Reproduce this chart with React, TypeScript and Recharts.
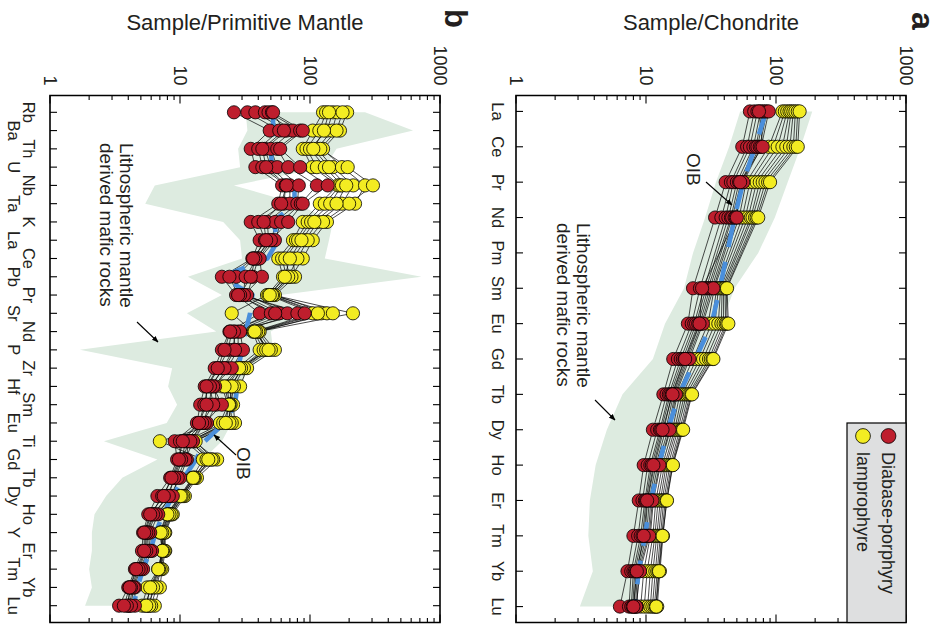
import React from 'react';
import { ComposedChart, Line, Area, XAxis, YAxis, ReferenceArea } from 'recharts';

// ---------- Panel a: chondrite-normalised REE ----------
const REE = ['La', 'Ce', 'Pr', 'Nd', 'Pm', 'Sm', 'Eu', 'Gd', 'Tb', 'Dy', 'Ho', 'Er', 'Tm', 'Yb', 'Lu'];
const reeBandLow = [53, 43.6, 34.5, 28.5, 23, 19.6, 14, 11.3, 6.6, 5.0, 4.1, 3.7, 3.6, 3.9, 3.1];
const reeBandHigh = [190, 155, 123, 98, 73, 48, 38, 31, 22, 17, 13, 11, 10, 9, 8];
const reeOIB = [84, 69, 56, 48, null, 37, 32, 24, 18, 14.7, 12.6, 10.9, 9.8, 8.8, 8.2];
const reeDiabase = [
  [63, 55, 41, 34, null, 23, 21, 16.2, 13.6, 11.3, 9.6, 8.8, 8.0, 7.2, 6.3],
  [68, 60, 45, 38, null, 26, 22.5, 17.6, 14.4, 12.2, 10.3, 9.4, 8.7, 7.7, 7.4],
  [72, 63, 47, 41, null, 28, 23.5, 18.5, 15.0, 12.8, 10.8, 9.8, 9.1, 8.0, 7.7],
  [76, 67, 50, 43, null, 29, 24.3, 19.2, 15.4, 13.1, 11.1, 10.0, 9.4, 8.2, 7.9],
  [79, 70, 52, 45, null, 30, 25.2, 19.8, 15.8, 13.7, 11.6, 10.3, 9.8, 8.4, 8.1],
  [82, 72, 54, 46, null, 31, 26.0, 20.5, 16.3, 14.2, 11.9, 10.6, 10.1, 8.6, 8.3],
  [85, 75, 55, 48, null, 32, 26.8, 21.0, 16.7, 14.8, 12.3, 10.9, 10.4, 8.8, 8.5],
  [88, 77, 56, 49, null, 33, 27.4, 21.6, 17.0, 15.2, 12.7, 11.2, 10.6, 9.0, 8.4],
  [74, 79, 53, 50, null, 27, 25.8, 20.0, 16.0, 13.4, 11.4, 10.2, 9.6, 8.5, 8.0],
];
const reeLamprophyre = [
  [112, 88, 59, 52, null, 33.5, 30, 23, 17.4, 15.4, 12.9, 11.4, 10.8, 9.6, 9.1],
  [117, 95, 63, 55, null, 35, 32, 24.5, 18.2, 16.0, 13.4, 11.9, 11.3, 10.2, 9.7],
  [122, 103, 67, 58, null, 36, 34, 26, 19.0, 16.6, 13.9, 12.4, 11.7, 10.8, 10.3],
  [127, 112, 71, 61, null, 37.5, 36, 27.5, 19.8, 17.1, 14.3, 12.9, 12.1, 11.3, 10.8],
  [131, 120, 75, 64, null, 38.5, 38, 29, 20.5, 17.6, 14.8, 13.3, 12.5, 11.8, 11.2],
  [136, 128, 79, 66, null, 39.5, 39.5, 30.5, 21.2, 18.2, 15.3, 13.7, 12.9, 12.2, 11.6],
  [141, 136, 83, 69, null, 40.5, 41, 31.5, 21.8, 18.7, 15.7, 14.1, 13.2, 12.5, 11.9],
  [147, 142, 87, 71, null, 41.5, 42, 32.5, 22.3, 19.0, 16.0, 14.4, 13.5, 12.8, 12.2],
  [152, 147, 90, 73, null, 42, 43, 33, 22.6, 19.3, 16.1, 14.5, 13.4, 12.6, 12.0],
];

// ---------- Panel b: primitive-mantle-normalised spider ----------
const SPIDER = ['Rb', 'Ba', 'Th', 'U', 'Nb', 'Ta', 'K', 'La', 'Ce', 'Pb', 'Pr', 'Sr', 'Nd', 'P',
  'Zr', 'Hf', 'Sm', 'Eu', 'Ti', 'Gd', 'Tb', 'Dy', 'Ho', 'Y', 'Er', 'Tm', 'Yb', 'Lu'];
const spBandLow = [32, 33, 28, 29, 6.4, 5.4, 21.5, 29, 30, 11.5, 21, 11.3, 19, 1.7, 8.7, 8.1, 9.5, 7.9,
  2.6, 6.7, 3.6, 2.7, 2.2, 2.1, 2.1, 2.0, 2.1, 1.86];
const spBandHigh = [265, 620, 160, 130, 26, 80, 150, 140, 130, 720, 59, 85, 50, 52, 34, 29, 27.5, 25,
  21, 15, 12, 10, 8.8, 7.9, 7.4, 7, 6.2, 5.6];
const spOIB = [52, 52, 50, 51, 76, 76, 52, 57, 47, 21, 36, 34.6, 32, 30, 28, 27.5, 26.5, 22, 15.5, 13.3,
  10.7, 8.8, 7.4, 6.5, 5.9, 5.2, 4.7, 4.4];
const spDiabase = [
  [26, 49, 35, 38, 61, 57, 35, 41, 36, 21, 27, 41, 24, 21, 18.5, 15.5, 14.3, 13.5, 9.1, 9.5, 8.4, 6.7, 5.7, 5.2, 5.1, 4.5, 4.0, 3.4],
  [33, 58, 40, 43, 65, 63, 40, 45, 37, 27, 28.5, 50, 25, 23.5, 19.8, 16.3, 15.4, 14.0, 10.0, 10.0, 8.8, 7.3, 6.0, 5.4, 5.4, 4.7, 4.1, 4.0],
  [38, 66, 45, 50, 70, 70, 47, 48, 39, 32, 30.5, 58, 26.5, 25.6, 21.4, 17.5, 16.8, 15.0, 10.9, 10.5, 9.2, 7.9, 6.3, 5.6, 5.7, 4.9, 4.3, 4.1],
  [45, 74, 50, 56, 82, 80, 54, 51, 40, 36.3, 32.8, 67, 28, 28, 23, 18.6, 19, 16.1, 11.5, 11.3, 10, 8.4, 6.8, 5.9, 6.1, 5.2, 4.5, 4.5],
  [48, 84, 56, 68, 113, 85, 60, 53.7, 41, 42.7, 31, 80, 29, 30.5, 25, 18, 21, 15.5, 12.6, 11, 9.6, 8.8, 6.5, 5.7, 5.9, 5.0, 4.4, 4.2],
  [51, 88, 59, 84, 137, 88, 68, 50, 38, 35, 29, 91, 26, 26.5, 22, 17, 18, 14.8, 12, 10.2, 9, 8.2, 6.2, 5.5, 5.5, 4.8, 4.2, 3.9],
  [52, 63, 43, 46, 66, 60, 44, 46, 36.5, 24, 28, 54, 24.3, 22, 19.5, 16, 16, 14, 10.5, 9.8, 8.6, 7.5, 5.9, 5.3, 5.3, 4.6, 4.1, 3.7],
];
const spLamprophyre = [
  [126, 105, 88, 104, 164, 119, 88, 74, 57, 62, 46.7, 25, 36.3, 41, 27.5, 21, 23.4, 20.3, 7.0, 15, 12.4, 10, 7.9, 7.0, 7.3, 6.8, 5.6, 5.1],
  [133, 118, 94, 113, 170, 130, 96, 78, 61, 66, 48, 105, 37, 44, 29, 23, 24, 21.5, 11, 16, 12.8, 10.2, 8.2, 7.2, 7.4, 6.9, 6.0, 5.4],
  [150, 135, 100, 130, 176, 143, 102, 81, 64.5, 70, 50, 122, 39, 47, 30.5, 24.3, 25, 23.4, 11.8, 17, 13.2, 10.5, 8.5, 7.4, 7.5, 7.0, 6.4, 5.7],
  [162, 148, 113, 150, 215, 176, 115, 91.5, 74, 76.7, 53.7, 135, 41, 53.7, 32.8, 29, 25.6, 26.5, 12.8, 19.3, 13.5, 10.9, 8.8, 7.7, 7.7, 7.3, 7.0, 6.4],
  [193, 170, 126, 176, 265, 222, 135, 105, 88, 72, 52, 214, 40, 50, 31, 26, 24.5, 25, 13.2, 18, 13, 10.6, 8.6, 7.6, 7.6, 7.1, 6.6, 6.0],
  [178, 160, 120, 195, 305, 200, 126, 96, 80, 68, 51, 150, 38.5, 46, 29.5, 25, 24, 24, 12.4, 17.5, 12.8, 10.3, 8.3, 7.3, 7.4, 6.9, 6.2, 5.8],
  [140, 128, 106, 140, 190, 160, 108, 86, 70, 64, 49, 115, 37.5, 48, 28.5, 22, 23.8, 22.5, 12, 16.5, 12.6, 10.1, 8.0, 7.1, 7.3, 6.8, 5.9, 5.5],
];

const LOG_TICKS = [1, 2, 3, 4, 5, 6, 7, 8, 9, 10, 20, 30, 40, 50, 60, 70, 80, 90, 100,
  200, 300, 400, 500, 600, 700, 800, 900, 1000];
const MAJOR = [1, 10, 100, 1000];

// ---------- styling ----------
const FF = '"Liberation Sans", Arial, Helvetica, sans-serif';
const INK = '#231f20';
const RED = '#BE1E2D';
const YEL = '#F3EC22';
const BLUE = '#4A8FDB';
const GREEN = '#DDEBE0';
const W = 624;
const PLOT_W = 527;
const PLOT_H = 390;

function buildRows(els: string[], lo: number[], hi: number[], oib: (number | null)[], red: (number | null)[][], yel: (number | null)[][]) {
  return els.map((el, i) => {
    const row: any = { idx: i + 1, el, band: [lo[i], hi[i]], oib: oib[i] };
    red.forEach((s, k) => { row['d' + k] = s[i]; });
    yel.forEach((s, k) => { row['l' + k] = s[i]; });
    return row;
  });
}

const reeRows = buildRows(REE, reeBandLow, reeBandHigh, reeOIB, reeDiabase, reeLamprophyre);
const spRows = buildRows(SPIDER, spBandLow, spBandHigh, spOIB, spDiabase, spLamprophyre);

const LogTick = (props: any) => {
  const { x, y, payload } = props;
  const v = payload.value;
  const major = MAJOR.includes(v);
  const len = major ? 8 : 4.5;
  return (
    <g>
      <line x1={x} x2={x + len} y1={y} y2={y} stroke="#000" strokeWidth={1.1} />
      <line x1={x + PLOT_W} x2={x + PLOT_W - len} y1={y} y2={y} stroke="#000" strokeWidth={1.1} />
      {major ? (
        <text x={x - 10} y={y} dy="0.36em" textAnchor="end" fontFamily={FF} fontSize={18} fill={INK}>{v}</text>
      ) : null}
    </g>
  );
};

const makeElTick = (labels: string[], offsets: number[]) => (props: any) => {
  const { x, y, payload } = props;
  const i = Math.round(payload.value) - 1;
  const dy = offsets[i % offsets.length];
  return (
    <g>
      <line x1={x} x2={x} y1={y} y2={y - 7} stroke="#000" strokeWidth={1.1} />
      <line x1={x} x2={x} y1={y - PLOT_H} y2={y - PLOT_H + 7} stroke="#000" strokeWidth={1.1} />
      <text x={x} y={y + dy} textAnchor="middle" fontFamily={FF} fontSize={16.5} fill={INK}>{labels[i]}</text>
    </g>
  );
};

type PanelProps = {
  rows: any[]; labels: string[]; nRed: number; nYel: number; domainX: [number, number];
  offsets: number[]; height: number; top: number;
};

function Panel({ rows, labels, nRed, nYel, domainX, offsets, height, top }: PanelProps) {
  const ticksX = labels.map((_, i) => i + 1);
  const redKeys = Array.from({ length: nRed }, (_, k) => 'd' + k);
  const yelKeys = Array.from({ length: nYel }, (_, k) => 'l' + k);
  const bottom = height - top - PLOT_H;
  return (
    <ComposedChart width={W} height={height} data={rows}
      margin={{ top, right: W - 95.5 - PLOT_W, left: 55.5, bottom: bottom - 20 }}>
      <XAxis dataKey="idx" type="number" domain={domainX} ticks={ticksX} interval={0}
        allowDataOverflow tickSize={0} tickMargin={0} axisLine={false} tickLine={false} height={20}
        tick={makeElTick(labels, offsets)} />
      <YAxis type="number" scale="log" domain={[1, 1000]} ticks={LOG_TICKS} interval={0}
        allowDataOverflow tickSize={0} tickMargin={0} axisLine={false} tickLine={false} width={40}
        tick={LogTick} />
      <Area dataKey="band" type="linear" stroke="none" fill={GREEN} fillOpacity={1}
        isAnimationActive={false} activeDot={false} />
      {yelKeys.map((k) => (
        <Line key={'ll' + k} dataKey={k} type="linear" stroke="#000" strokeWidth={0.7} dot={false}
          activeDot={false} connectNulls isAnimationActive={false} />
      ))}
      {redKeys.map((k) => (
        <Line key={'ld' + k} dataKey={k} type="linear" stroke="#000" strokeWidth={0.7} dot={false}
          activeDot={false} connectNulls isAnimationActive={false} />
      ))}
      {yelKeys.map((k) => (
        <Line key={'pl' + k} dataKey={k} type="linear" stroke="none"
          dot={{ r: 6.6, fill: YEL, stroke: '#000', strokeWidth: 0.8 }}
          activeDot={false} isAnimationActive={false} />
      ))}
      {redKeys.map((k) => (
        <Line key={'pd' + k} dataKey={k} type="linear" stroke="none"
          dot={{ r: 6.6, fill: RED, stroke: '#000', strokeWidth: 0.8 }}
          activeDot={false} isAnimationActive={false} />
      ))}
      <Line dataKey="oib" type="linear" stroke={BLUE} strokeWidth={4.6} strokeDasharray="24 15"
        dot={false} activeDot={false} connectNulls isAnimationActive={false} />
      <ReferenceArea x1={domainX[0]} x2={domainX[1]} y1={1} y2={1000} fill="none"
        stroke="#000" strokeWidth={1.6} ifOverflow="visible" />
    </ComposedChart>
  );
}

function Overlay() {
  const txt = { fontFamily: FF, fill: INK } as const;
  return (
    <svg width={W} height={941} style={{ position: 'absolute', left: 0, top: 0, pointerEvents: 'none' }}>
      <defs>
        <marker id="ah" viewBox="0 0 10 10" refX="9" refY="5" markerWidth="6" markerHeight="6" orient="auto">
          <path d="M0,1 L10,5 L0,9 z" fill="#000" />
        </marker>
      </defs>
      {/* panel letters */}
      <text x={12} y={29} fontSize={32} fontWeight="bold" {...txt}>a</text>
      <text x={9} y={496} fontSize={31} fontWeight="bold" {...txt}>b</text>
      {/* axis titles */}
      <text x={22} y={230} transform="rotate(-90 22 230)" textAnchor="middle" dy="0.35em" fontSize={22} {...txt}>Sample/Chondrite</text>
      <text x={22} y={696} transform="rotate(-90 22 696)" textAnchor="middle" dy="0.35em" fontSize={22} {...txt}>Sample/Primitive Mantle</text>
      {/* legend */}
      <rect x={423} y={35} width={199.5} height={59} fill="#DEDFE0" stroke="#000" strokeWidth={1.2} />
      <circle cx={436} cy={52.5} r={7.4} fill={RED} stroke="#000" strokeWidth={0.8} />
      <circle cx={436} cy={78} r={7.4} fill={YEL} stroke="#000" strokeWidth={0.8} />
      <text x={452} y={59} fontSize={18} {...txt}>Diabase-porphyry</text>
      <text x={452} y={84.5} fontSize={18} {...txt}>lamprophyre</text>
      {/* panel a annotations */}
      <text x={153} y={254} fontSize={19} {...txt}>OIB</text>
      <line x1={182} y1={235} x2={205} y2={209} stroke="#000" strokeWidth={1.1} markerEnd="url(#ah)" />
      <text x={223} y={364} fontSize={19} {...txt}>Lithospheric mantle</text>
      <text x={223} y={384} fontSize={19} {...txt}>derived mafic rocks</text>
      <line x1={400} y1={346} x2={420} y2={326} stroke="#000" strokeWidth={1.1} markerEnd="url(#ah)" />
      {/* panel b annotations */}
      <text x={143} y={821} fontSize={19} {...txt}>Lithospheric mantle</text>
      <text x={143} y={841} fontSize={19} {...txt}>derived mafic rocks</text>
      <line x1={322} y1={804} x2={342} y2={783} stroke="#000" strokeWidth={1.1} markerEnd="url(#ah)" />
      <text x={447} y={704} fontSize={19} {...txt}>OIB</text>
      <line x1={455} y1={705} x2={435} y2={727} stroke="#000" strokeWidth={1.1} markerEnd="url(#ah)" />
    </svg>
  );
}

export default function App() {
  return (
    <div style={{ position: 'fixed', left: 0, top: 0, width: 941, height: 624, overflow: 'hidden', background: '#fff' }}>
      <div style={{
        position: 'absolute', left: 0, top: 0, width: W, height: 941,
        transformOrigin: '0 0', transform: 'translate(941px, 0px) rotate(90deg)',
      }}>
        <div style={{ position: 'absolute', left: 0, top: 0 }}>
          <Panel rows={reeRows} labels={REE} nRed={reeDiabase.length} nYel={reeLamprophyre.length}
            domainX={[0.55, 15.45]} offsets={[24.3]} height={470} top={35} />
        </div>
        <div style={{ position: 'absolute', left: 0, top: 470 }}>
          <Panel rows={spRows} labels={SPIDER} nRed={spDiabase.length} nYel={spLamprophyre.length}
            domainX={[0.08, 28.92]} offsets={[27, 42]} height={471} top={31} />
        </div>
        <Overlay />
      </div>
    </div>
  );
}
